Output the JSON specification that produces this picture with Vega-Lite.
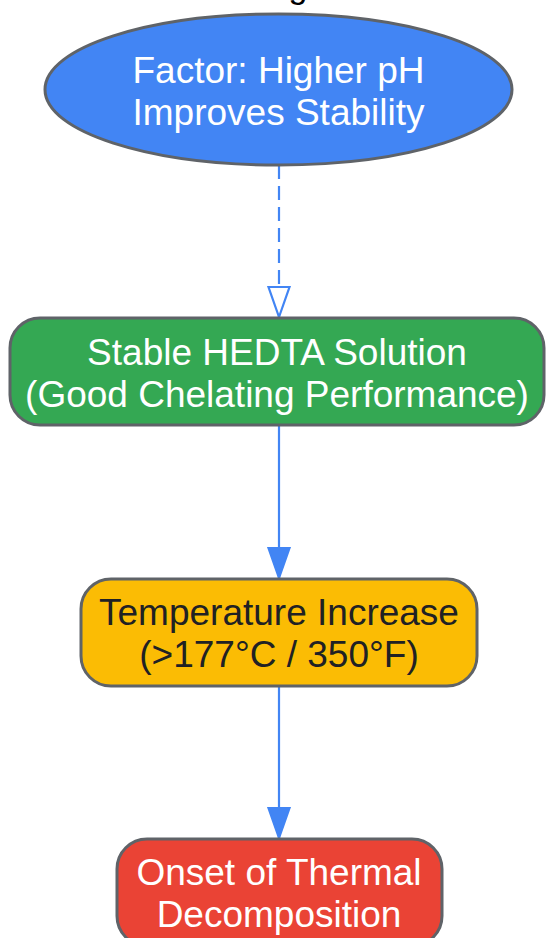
{
  "$schema": "https://vega.github.io/schema/vega-lite/v6.json",
  "width": 546,
  "height": 938,
  "autosize": {"type": "fit", "contains": "padding"},
  "padding": 0,
  "background": "white",
  "config": {"view": {"stroke": null}},
  "datasets": {
    "ellipses": [
      {"node": "Factor", "cx": 278.5, "cy": 89.5}
    ],
    "boxes": [
      {"node": "Stable", "left": 10, "right": 544, "top": 318, "bottom": 425},
      {"node": "Temperature", "left": 81, "right": 477, "top": 579, "bottom": 686},
      {"node": "Onset", "left": 117, "right": 442, "top": 839, "bottom": 946}
    ],
    "edges": [
      {"from": "Factor", "to": "Stable", "kind": "dashed", "x": 279, "ystart": 165, "ytip": 317},
      {"from": "Stable", "to": "Temperature", "kind": "solid", "x": 279, "ystart": 425, "ytip": 578},
      {"from": "Temperature", "to": "Onset", "kind": "solid", "x": 279, "ystart": 686, "ytip": 838}
    ],
    "labels": [
      {"node": "Factor", "x": 278.5, "y": 72, "label": ["Factor: Higher pH", "Improves Stability"]},
      {"node": "Stable", "x": 277, "y": 354, "label": ["Stable HEDTA Solution", "(Good Chelating Performance)"]},
      {"node": "Temperature", "x": 279, "y": 614, "label": ["Temperature Increase", "(>177°C / 350°F)"]},
      {"node": "Onset", "x": 279, "y": 874, "label": ["Onset of Thermal", "Decomposition"]}
    ],
    "title": [
      {"x": 298, "y": -2, "label": "g"}
    ]
  },
  "layer": [
    {
      "data": {"name": "edges"},
      "mark": {"type": "rule", "color": "#4285F4", "strokeWidth": 2.2},
      "encoding": {
        "x": {"field": "x", "type": "quantitative", "scale": {"domain": [0, 546], "nice": false, "zero": false}, "axis": null},
        "y": {"field": "ystart", "type": "quantitative", "scale": {"domain": [0, 938], "nice": false, "zero": false, "reverse": true}, "axis": null},
        "y2": {"field": "ytip"},
        "strokeDash": {"condition": {"test": "datum.kind === 'dashed'", "value": [14, 7]}, "value": [1, 0]}
      }
    },
    {
      "data": {"name": "edges"},
      "mark": {"type": "point", "shape": "M-0.7,-2L0.7,-2L0,0Z", "size": 900, "filled": true, "opacity": 1, "stroke": "#4285F4", "strokeWidth": 2.2},
      "encoding": {
        "x": {"field": "x", "type": "quantitative"},
        "y": {"field": "ytip", "type": "quantitative"},
        "fill": {"condition": {"test": "datum.kind === 'dashed'", "value": "white"}, "value": "#4285F4"}
      }
    },
    {
      "data": {"name": "ellipses"},
      "mark": {"type": "point", "shape": "M1,0C1,0.1811 0.5523,0.3233 0,0.3233C-0.5523,0.3233 -1,0.1811 -1,0C-1,-0.1811 -0.5523,-0.3233 0,-0.3233C0.5523,-0.3233 1,-0.1811 1,0Z", "size": 218089, "filled": true, "opacity": 1, "fill": "#4285F4", "stroke": "#5F6368", "strokeWidth": 3},
      "encoding": {
        "x": {"field": "cx", "type": "quantitative"},
        "y": {"field": "cy", "type": "quantitative"}
      }
    },
    {
      "data": {"name": "boxes"},
      "mark": {"type": "rect", "cornerRadius": 30, "stroke": "#5F6368", "strokeWidth": 3, "clip": true},
      "encoding": {
        "x": {"field": "left", "type": "quantitative"},
        "x2": {"field": "right"},
        "y": {"field": "top", "type": "quantitative"},
        "y2": {"field": "bottom"},
        "fill": {"field": "node", "type": "nominal", "legend": null, "scale": {"domain": ["Stable", "Temperature", "Onset"], "range": ["#34A853", "#FBBC04", "#EA4335"]}}
      }
    },
    {
      "data": {"name": "labels"},
      "mark": {"type": "text", "font": "Liberation Sans", "fontSize": 37, "lineHeight": 42, "align": "center", "baseline": "middle", "clip": true},
      "encoding": {
        "x": {"field": "x", "type": "quantitative"},
        "y": {"field": "y", "type": "quantitative"},
        "text": {"field": "label"},
        "color": {"condition": {"test": "datum.node === 'Temperature'", "value": "#202124"}, "value": "white"}
      }
    },
    {
      "data": {"name": "title"},
      "mark": {"type": "text", "font": "Liberation Sans", "fontSize": 34, "align": "center", "baseline": "alphabetic", "color": "#000000", "clip": true},
      "encoding": {
        "x": {"field": "x", "type": "quantitative"},
        "y": {"field": "y", "type": "quantitative"},
        "text": {"field": "label"}
      }
    }
  ]
}
